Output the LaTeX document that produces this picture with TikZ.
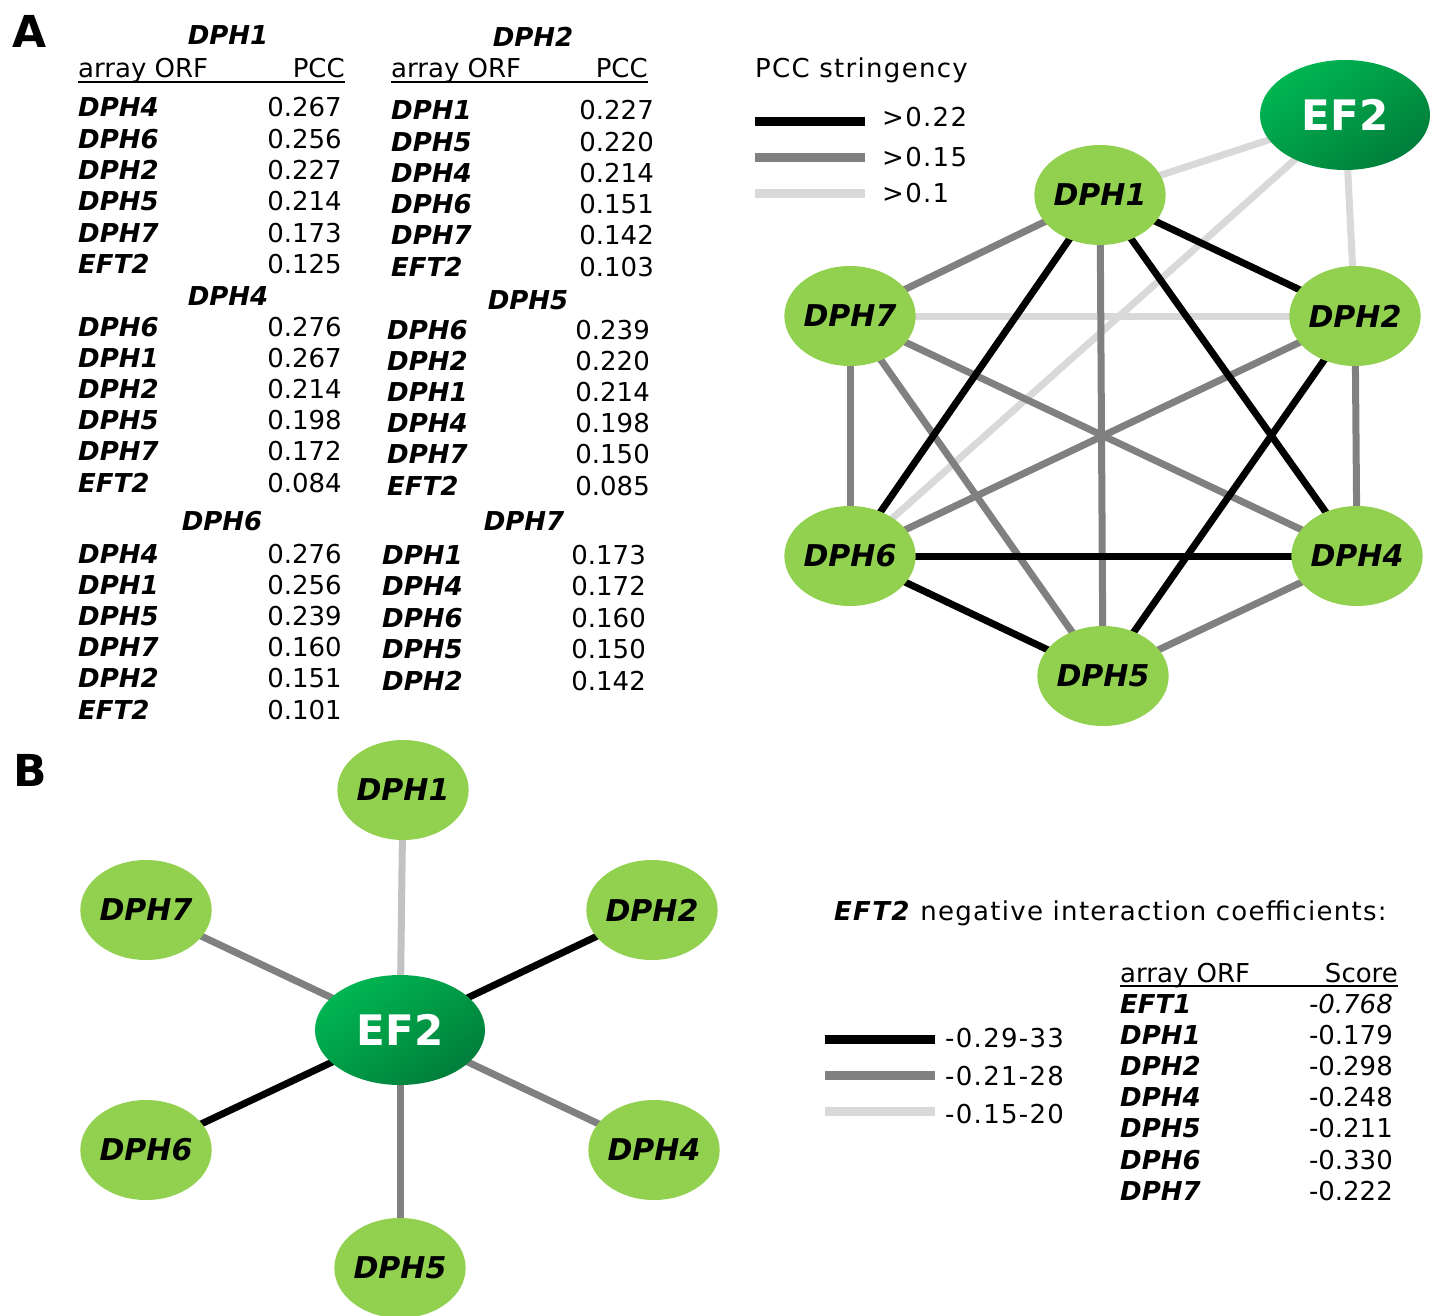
\documentclass[tikz,border=0pt]{standalone}
\usepackage{fontspec}
\setmainfont{DejaVu Sans}
\usetikzlibrary{shapes.geometric,backgrounds}

\definecolor{dphgreen}{RGB}{146,208,80}
\definecolor{eflight}{RGB}{0,182,82}
\definecolor{efdark}{RGB}{0,126,58}
\definecolor{pccmid}{RGB}{128,128,128}
\definecolor{pcclow}{RGB}{217,217,217}
\definecolor{eftlow}{RGB}{194,194,194}
\newcommand{\tabfont}{\fontsize{26}{31}\selectfont}

\begin{document}
\begin{tikzpicture}[x=1pt, y=-1pt,
  every node/.style={font=\tabfont, inner sep=0pt},
  orf/.style={anchor=base west, font=\tabfont\bfseries\itshape},
  val/.style={anchor=base east},
  ttl/.style={anchor=base, font=\tabfont\bfseries\itshape},
  legtext/.style={anchor=base west, font=\tabfont\addfontfeatures{LetterSpace=5}},
  panel/.style={anchor=base west, font=\fontsize{44}{50}\selectfont\bfseries},
  dph/.style={ellipse, fill=dphgreen, minimum width=127pt, minimum height=100pt, font=\fontsize{30}{36}\selectfont\bfseries\itshape},
  ef/.style={ellipse, top color=eflight, bottom color=efdark, shading angle=35, minimum width=170pt, minimum height=110pt, text=white, font=\fontsize{42}{50}\selectfont\bfseries},
  strong/.style={line width=7pt, black},
  medium/.style={line width=7pt, pccmid},
  weak/.style={line width=7pt, pcclow},
  key/.style={line width=9pt},
  rule/.style={line width=1.4pt}
]
  \path[use as bounding box] (0,0) rectangle (1432,1316);

  % panel A: PCC tables
  \node[panel] (labA) at (12,48) {A};

  \node[ttl] (t1) at (228,45) {DPH1};
  \node[anchor=base west] (t1h) at (78,78) {array ORF};
  \node[val] (t1p) at (345,78) {PCC};
  \draw[rule] ([yshift=-4pt]t1h.base west) -- ([yshift=-4pt]t1p.base east);
  \foreach \g/\v [count=\i] in {DPH4/0.267, DPH6/0.256, DPH2/0.227, DPH5/0.214, DPH7/0.173, EFT2/0.125} {
    \node[orf] (t1n\i) at (78,{117+31.3*(\i-1)}) {\g};
    \node[val] (t1v\i) at (342,{117+31.3*(\i-1)}) {\v};
  }

  \node[ttl] (t4) at (228,305) {DPH4};
  \foreach \g/\v [count=\i] in {DPH6/0.276, DPH1/0.267, DPH2/0.214, DPH5/0.198, DPH7/0.172, EFT2/0.084} {
    \node[orf] (t4n\i) at (78,{336+31.2*(\i-1)}) {\g};
    \node[val] (t4v\i) at (342,{336+31.2*(\i-1)}) {\v};
  }

  \node[ttl] (t6) at (222,530) {DPH6};
  \foreach \g/\v [count=\i] in {DPH4/0.276, DPH1/0.256, DPH5/0.239, DPH7/0.160, DPH2/0.151, EFT2/0.101} {
    \node[orf] (t6n\i) at (78,{563+31.2*(\i-1)}) {\g};
    \node[val] (t6v\i) at (342,{563+31.2*(\i-1)}) {\v};
  }

  \node[ttl] (t2) at (533,47) {DPH2};
  \node[anchor=base west] (t2h) at (391,78) {array ORF};
  \node[val] (t2p) at (648,78) {PCC};
  \draw[rule] ([yshift=-4pt]t2h.base west) -- ([yshift=-4pt]t2p.base east);
  \foreach \g/\v [count=\i] in {DPH1/0.227, DPH5/0.220, DPH4/0.214, DPH6/0.151, DPH7/0.142, EFT2/0.103} {
    \node[orf] (t2n\i) at (391,{120+31.2*(\i-1)}) {\g};
    \node[val] (t2v\i) at (654,{120+31.2*(\i-1)}) {\v};
  }

  \node[ttl] (t5) at (528,309) {DPH5};
  \foreach \g/\v [count=\i] in {DPH6/0.239, DPH2/0.220, DPH1/0.214, DPH4/0.198, DPH7/0.150, EFT2/0.085} {
    \node[orf] (t5n\i) at (387,{339+31.2*(\i-1)}) {\g};
    \node[val] (t5v\i) at (650,{339+31.2*(\i-1)}) {\v};
  }

  \node[ttl] (t7) at (524,530) {DPH7};
  \foreach \g/\v [count=\i] in {DPH1/0.173, DPH4/0.172, DPH6/0.160, DPH5/0.150, DPH2/0.142} {
    \node[orf] (t7n\i) at (382,{564+31.5*(\i-1)}) {\g};
    \node[val] (t7v\i) at (646,{564+31.5*(\i-1)}) {\v};
  }

  % panel A: legend
  \node[legtext] (pcctitle) at (755,78) {PCC stringency};
  \coordinate (ka1) at (755,122); \coordinate (kb1) at (865,122);
  \coordinate (ka2) at (755,158); \coordinate (kb2) at (865,158);
  \coordinate (ka3) at (755,194); \coordinate (kb3) at (865,194);
  \draw[key, black] (ka1) -- (kb1);
  \draw[key, pccmid] (ka2) -- (kb2);
  \draw[key, pcclow] (ka3) -- (kb3);
  \node[legtext] (kt1) at (882,127) {>0.22};
  \node[legtext] (kt2) at (882,167) {>0.15};
  \node[legtext] (kt3) at (882,203) {>0.1};

  % panel A: network
  \node[ef] (aef) at (1345,115) {EF2};
  \node[dph] (a1) at (1100,195) {DPH1};
  \node[dph] (a7) at (850,316) {DPH7};
  \node[dph] (a2) at (1355,316) {DPH2};
  \node[dph] (a6) at (850,556) {DPH6};
  \node[dph] (a4) at (1357,556) {DPH4};
  \node[dph] (a5) at (1103,676) {DPH5};
  \begin{pgfonlayer}{background}
    \foreach \u/\v in {a1/aef, a6/aef, a2/aef, a7/a2}
      \draw[weak] (\u.center) -- (\v.center);
    \foreach \u/\v in {a1/a7, a1/a5, a7/a6, a7/a5, a7/a4, a2/a6, a2/a4, a4/a5}
      \draw[medium] (\u.center) -- (\v.center);
    \foreach \u/\v in {a1/a2, a1/a6, a1/a4, a2/a5, a6/a4, a6/a5}
      \draw[strong] (\u.center) -- (\v.center);
  \end{pgfonlayer}

  % panel B: star
  \node[panel] (labB) at (13,786) {B};
  \node[ef] (bef) at (400,1030) {EF2};
  \node[dph] (b1) at (403,790) {DPH1};
  \node[dph] (b7) at (146,910) {DPH7};
  \node[dph] (b2) at (652,910) {DPH2};
  \node[dph] (b6) at (146,1150) {DPH6};
  \node[dph] (b4) at (654,1150) {DPH4};
  \node[dph] (b5) at (400,1268) {DPH5};
  \begin{pgfonlayer}{background}
    \draw[weak, eftlow] (bef.center) -- (b1.center);
    \foreach \v in {b7, b4, b5}
      \draw[medium] (bef.center) -- (\v.center);
    \foreach \v in {b2, b6}
      \draw[strong] (bef.center) -- (\v.center);
  \end{pgfonlayer}

  % panel B: legend and scores
  \node[legtext] (btitle) at (834,920) {\textbf{\textit{EFT2}} negative interaction coefficients:};
  \coordinate (la1) at (825,1039); \coordinate (lb1) at (935,1039);
  \coordinate (la2) at (825,1075); \coordinate (lb2) at (935,1075);
  \coordinate (la3) at (825,1111); \coordinate (lb3) at (935,1111);
  \draw[key, black] (la1) -- (lb1);
  \draw[key, pccmid] (la2) -- (lb2);
  \draw[key, pcclow] (la3) -- (lb3);
  \node[legtext] (lt1) at (945,1047) {-0.29-33};
  \node[legtext] (lt2) at (945,1085) {-0.21-28};
  \node[legtext] (lt3) at (945,1123) {-0.15-20};

  \node[anchor=base west] (sh) at (1120,982) {array ORF};
  \node[val] (sp) at (1398,982) {Score};
  \draw[rule] ([yshift=-4pt]sh.base west) -- ([yshift=-4pt]sp.base east);
  \node[orf] (sn0) at (1120,1013) {EFT1};
  \node[val] (sv0) at (1393,1013) {\itshape -0.768};
  \foreach \g/\v [count=\i] in {DPH1/-0.179, DPH2/-0.298, DPH4/-0.248, DPH5/-0.211, DPH6/-0.330, DPH7/-0.222} {
    \node[orf] (sn\i) at (1120,{1013+31.2*\i}) {\g};
    \node[val] (sv\i) at (1393,{1013+31.2*\i}) {\v};
  }
\end{tikzpicture}
\end{document}
